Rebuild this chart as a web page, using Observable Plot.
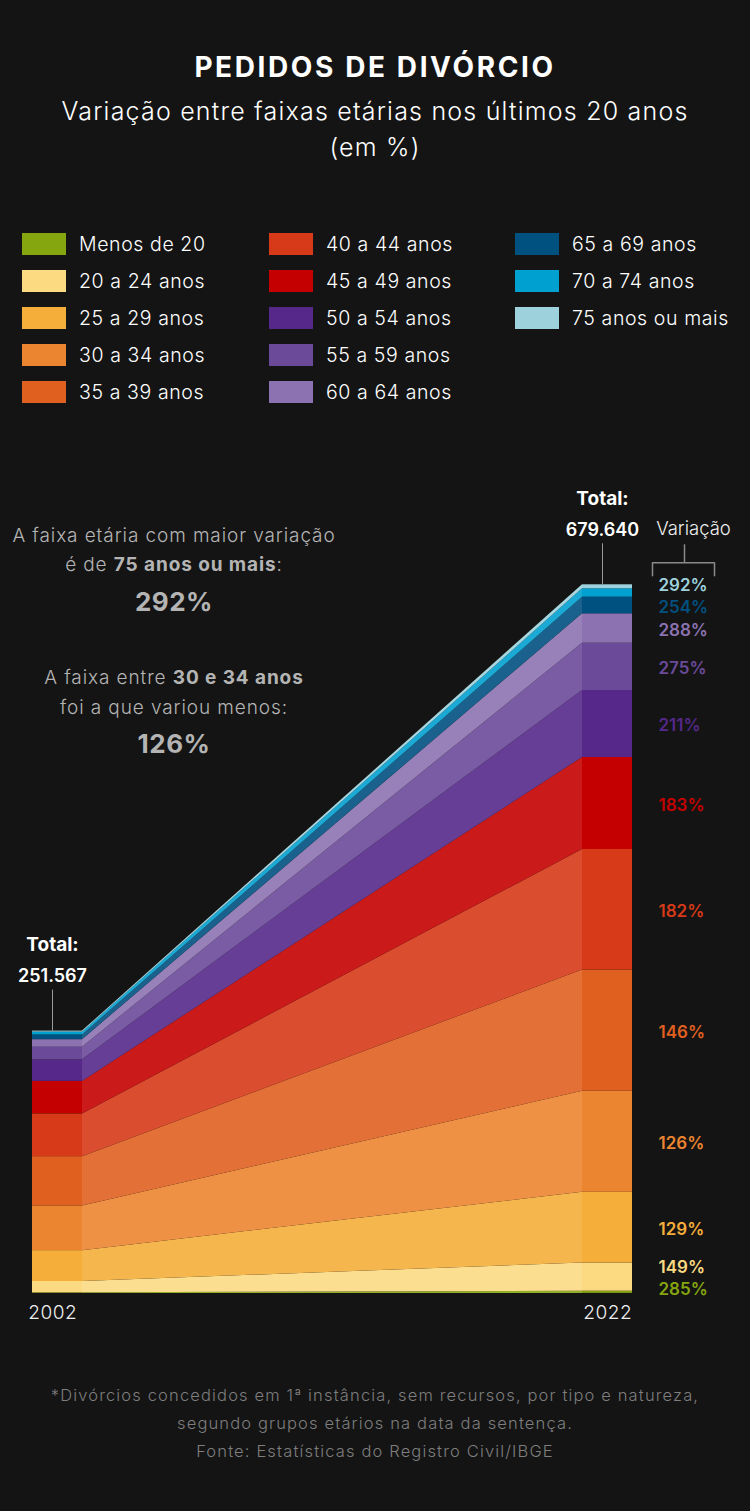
<!DOCTYPE html>
<html>
<head>
<meta charset="utf-8">
<script src="https://cdn.jsdelivr.net/npm/d3@7"></script>
<script src="https://cdn.jsdelivr.net/npm/@observablehq/plot@0.6"></script>
<style>
  html, body { margin: 0; padding: 0; background: #141414; }
  body { width: 750px; height: 1511px; overflow: hidden; font-family: Inter, "Open Sans", "DejaVu Sans", sans-serif; color: #fff; }
  #page { position: relative; width: 750px; height: 1511px; }
  .abs { position: absolute; white-space: nowrap; }
  .center { left: 0; width: 750px; text-align: center; }
  #title { top: 50px; font-size: 28px; font-weight: 700; letter-spacing: 2.6px; }
  .sub { font-size: 25px; font-weight: 300; letter-spacing: 1.2px; }
  .leg-sw { position: absolute; width: 44px; height: 22px; }
  .leg-tx { position: absolute; font-size: 19.5px; font-weight: 300; line-height: 22px; letter-spacing: 0.6px; }
  .ann { position: absolute; left: 0; width: 348px; text-align: center; color: #b4b4b4; font-size: 19px; font-weight: 300; line-height: 24px; letter-spacing: 0.9px; }
  .ann b { font-weight: 700; }
  .ann.big { font-size: 26px; font-weight: 700; line-height: 30px; letter-spacing: 0.5px; }
  .foot { font-size: 16.5px; font-weight: 300; color: #7e7e7e; line-height: 20px; letter-spacing: 1.15px; }
  #chart { position: absolute; left: 0; top: 470px; }
</style>
</head>
<body>
<div id="page"></div>
<script>
// ---------- data ----------
const faixas = ["Menos de 20","20 a 24 anos","25 a 29 anos","30 a 34 anos","35 a 39 anos","40 a 44 anos","45 a 49 anos","50 a 54 anos","55 a 59 anos","60 a 64 anos","65 a 69 anos","70 a 74 anos","75 anos ou mais"];
const divorcios2002 = [548, 10862, 29612, 42906, 47216, 41018, 31180, 20663, 12098, 7268, 4498, 2719, 979];
const divorcios2022 = [2110, 27047, 67811, 96968, 116151, 115671, 88240, 64262, 45367, 28199, 15922, 8057, 3835];
const variacao = [285, 149, 129, 126, 146, 182, 183, 211, 275, 288, 254, null, 292];
const cores = ["#86a60f","#fbda82","#f5ae3a","#ec8530","#e06020","#d63a18","#c40000","#55288a","#6b4a9a","#8c72b0","#005080","#00a0d0","#9dd2dc"];
const anos = ["2002", "2022"];
const totais = ["251.567", "679.640"];

// ---------- page text ----------
const page = document.getElementById("page");
function el(tag, cls, html, style) {
  const e = document.createElement(tag);
  if (cls) e.className = cls;
  e.innerHTML = html;
  Object.assign(e.style, style || {});
  page.appendChild(e);
  return e;
}
el("div", "abs center", "PEDIDOS DE DIVÓRCIO", {}).id = "title";
el("div", "abs center sub", "Variação entre faixas etárias nos últimos 20 anos", {top: "96px"});
el("div", "abs center sub", "(em %)", {top: "132px"});

// legend (3 columns x 5 rows)
const legCols = [[22, 79], [269, 326], [515, 572]];
faixas.forEach((f, i) => {
  const c = Math.floor(i / 5), r = i % 5;
  const cy = 244 + r * 37;
  el("div", "leg-sw", "", {left: legCols[c][0] + "px", top: (cy - 11) + "px", background: cores[i]});
  el("div", "leg-tx", f, {left: legCols[c][1] + "px", top: (cy - 11) + "px"});
});

// left annotation
const annLines = [
  ["", "A faixa etária com maior variação", 536],
  ["", "é de <b>75 anos ou mais</b>:", 565],
  ["big", "292%", 602],
  ["", "A faixa entre <b>30 e 34 anos</b>", 678],
  ["", "foi a que variou menos:", 708],
  ["big", "126%", 744]
];
annLines.forEach(([k, t, cy]) => {
  el("div", "ann " + k, t, {top: (cy - (k ? 15 : 12)) + "px"});
});

// footer
el("div", "abs center foot", "*Divórcios concedidos em 1ª instância, sem recursos, por tipo e natureza,", {top: "1385px"});
el("div", "abs center foot", "segundo grupos etários na data da sentença.", {top: "1413px"});
el("div", "abs center foot", "Fonte: Estatísticas do Registro Civil/IBGE", {top: "1441px"});

// ---------- chart ----------
const svgTop = 470, plotH = 860;
const marginTop = 114.3, marginBottom = 37.1;
const yMax = d3.sum(divorcios2022);
const k = yMax / (plotH - marginTop - marginBottom); // units per pixel
const px = p => p * k;

const cum02 = d3.cumsum(divorcios2002), cum22 = d3.cumsum(divorcios2022);
const rows = faixas.map((f, i) => ({
  faixa: f, cor: cores[i], area: d3.interpolateRgb(cores[i], "#ffffff")(0.1),
  a1: cum02[i] - divorcios2002[i], a2: cum02[i],
  b1: cum22[i] - divorcios2022[i], b2: cum22[i], v: variacao[i]
}));

// bars: 2002 at x in [0,1], 2022 at x in [11,12]; area between
const bars = rows.flatMap(d => [
  {x1: 0, x2: 1, y1: d.a1, y2: d.a2, cor: d.cor},
  {x1: 11, x2: 12, y1: d.b1, y2: d.b2, cor: d.cor}
]);
const areaPts = rows.flatMap(d => [
  {faixa: d.faixa, x: 1, y1: d.a1, y2: d.a2, cor: d.area},
  {faixa: d.faixa, x: 11, y1: d.b1, y2: d.b2, cor: d.area}
]);

// variation labels: band midpoints, dodged upward
const labs = [];
let prev = -Infinity;
rows.forEach(d => {
  if (d.v == null) return;
  let p = ((d.b1 + d.b2) / 2) / k;
  p = Math.max(p, 6, prev + 22);
  prev = p;
  labs.push({y: px(p), text: d.v + "%", cor: d.cor});
});

const tot02 = cum02[cum02.length - 1], tot22 = cum22[cum22.length - 1];
const totalData = [
  {x: 0.4, y: tot02, num: totais[0]},
  {x: 11.4, y: tot22, num: totais[1]}
];

// bracket for "Variação"
const bY = tot22 + px(22);
const bracket = [
  {x: 12.4, y: tot22 + px(9)}, {x: 12.4, y: bY}, {x: 13.64, y: bY}, {x: 13.64, y: tot22 + px(9)}
];

const chart = Plot.plot({
  width: 750,
  height: plotH,
  marginLeft: 32,
  marginRight: 118,
  marginTop,
  marginBottom,
  style: {background: "transparent", color: "#eee", fontFamily: "Inter, 'Open Sans', sans-serif"},
  x: {domain: [0, 12], axis: null},
  y: {domain: [0, yMax], axis: null},
  marks: [
    Plot.areaY(areaPts, {x: "x", y1: "y1", y2: "y2", z: "faixa", fill: "cor"}),
    Plot.rect(bars, {x1: "x1", x2: "x2", y1: "y1", y2: "y2", fill: "cor"}),
    Plot.axisX({ticks: [0.4, 11.5], tickFormat: (d, i) => anos[i], tickSize: 0, tickPadding: 12, fontSize: 19, fontWeight: 300, color: "#eee"}),
    // totals
    Plot.ruleX(totalData, {x: "x", y1: d => d.y, y2: d => d.y + px(41), stroke: "#9a9a9a", strokeWidth: 1}),
    Plot.text(totalData, {x: "x", y: "y", text: () => "Total:", dy: -86, fill: "#fff", fontSize: 19, fontWeight: 700}),
    Plot.text(totalData, {x: "x", y: "y", text: "num", dy: -55, fill: "#fff", fontSize: 18, fontWeight: 600}),
    // Variação header
    Plot.line(bracket, {x: "x", y: "y", stroke: "#8a8a8a", strokeWidth: 1.5}),
    Plot.ruleX([13.04], {y1: bY, y2: bY + px(18), stroke: "#8a8a8a", strokeWidth: 1.5}),
    Plot.text(["Variação"], {x: 13.22, y: tot22, dy: -56, text: d => d, fill: "#eee", fontSize: 18.5, fontWeight: 300}),
    // variation labels
    Plot.text(labs, {x: 12, y: "y", text: "text", fill: "cor", dx: 26, dy: 2, textAnchor: "start", fontSize: 17, fontWeight: 600})
  ]
});
chart.id = "chart";
page.appendChild(chart);
</script>
</body>
</html>
